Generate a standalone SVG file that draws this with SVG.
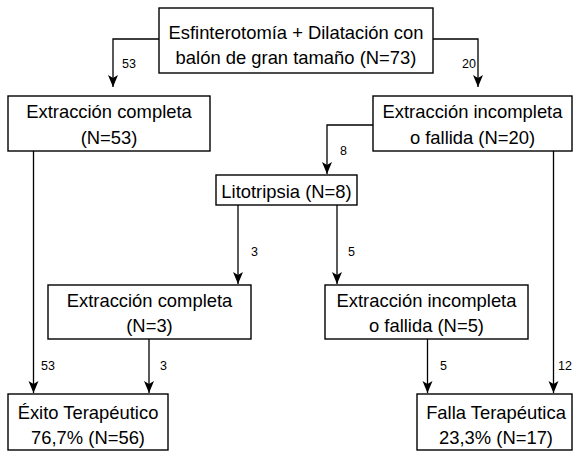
<svg xmlns="http://www.w3.org/2000/svg" width="573" height="452" viewBox="0 0 573 452">
<style>
.box{fill:#fff;stroke:#000;stroke-width:1.4}
.t{font-family:"Liberation Sans",Arial,sans-serif;font-size:18.4px;fill:#000;text-anchor:middle}
.lbl{font-family:"Liberation Sans",Arial,sans-serif;font-size:12.5px;fill:#000}
.c{fill:none;stroke:#000;stroke-width:1.3;marker-end:url(#arr)}
</style>
<defs>
<marker id="arr" markerWidth="13" markerHeight="11" refX="12" refY="5" orient="auto" markerUnits="userSpaceOnUse">
<path d="M0,0 L12,5 L0,10 L3,5 Z" fill="#000"/>
</marker>
</defs>
<rect width="573" height="452" fill="#fff"/>
<g id="connectors">
<path class="c" d="M159,39 H113 V87"/>
<path class="c" d="M433,39 H478 V87"/>
<path class="c" d="M373,125 H327 V174"/>
<path class="c" d="M238,205 V284"/>
<path class="c" d="M337,205 V284"/>
<path class="c" d="M33.5,151 V393"/>
<path class="c" d="M149,339 V393"/>
<path class="c" d="M427.5,339 V393"/>
<path class="c" d="M553.5,151 V393"/>
<text class="lbl" x="122" y="68">53</text>
<text class="lbl" x="462" y="68">20</text>
<text class="lbl" x="340" y="155">8</text>
<text class="lbl" x="251" y="256">3</text>
<text class="lbl" x="348" y="256">5</text>
<text class="lbl" x="41" y="370">53</text>
<text class="lbl" x="160" y="370">3</text>
<text class="lbl" x="440" y="370">5</text>
<text class="lbl" x="558" y="370">12</text>
</g>
<g id="n0">
<rect class="box" x="159" y="8" width="274" height="65"/>
<text class="t" x="296" y="38.5">Esfinterotomía + Dilatación con</text>
<text class="t" x="296" y="64">balón de gran tamaño (N=73)</text>
</g>
<g id="n1">
<rect class="box" x="8" y="96" width="202" height="55"/>
<text class="t" x="109" y="118">Extracción completa</text>
<text class="t" x="109" y="143.5">(N=53)</text>
</g>
<g id="n2">
<rect class="box" x="373" y="96" width="199" height="55"/>
<text class="t" x="472.5" y="118">Extracción incompleta</text>
<text class="t" x="472.5" y="143.5">o fallida (N=20)</text>
</g>
<g id="n3">
<rect class="box" x="216" y="175" width="141" height="30"/>
<text class="t" x="286.5" y="197.5">Litotripsia (N=8)</text>
</g>
<g id="n4">
<rect class="box" x="48" y="285" width="203" height="54"/>
<text class="t" x="149.5" y="307">Extracción completa</text>
<text class="t" x="149.5" y="332">(N=3)</text>
</g>
<g id="n5">
<rect class="box" x="325" y="285" width="203" height="54"/>
<text class="t" x="426.5" y="307">Extracción incompleta</text>
<text class="t" x="426.5" y="332">o fallida (N=5)</text>
</g>
<g id="n6">
<rect class="box" x="8" y="394" width="160" height="56"/>
<text class="t" x="88" y="418.5">Éxito Terapéutico</text>
<text class="t" x="88" y="443.5">76,7% (N=56)</text>
</g>
<g id="n7">
<rect class="box" x="417" y="394" width="155" height="56"/>
<text class="t" x="496" y="418.5">Falla Terapéutica</text>
<text class="t" x="496" y="443.5">23,3% (N=17)</text>
</g>
</svg>
